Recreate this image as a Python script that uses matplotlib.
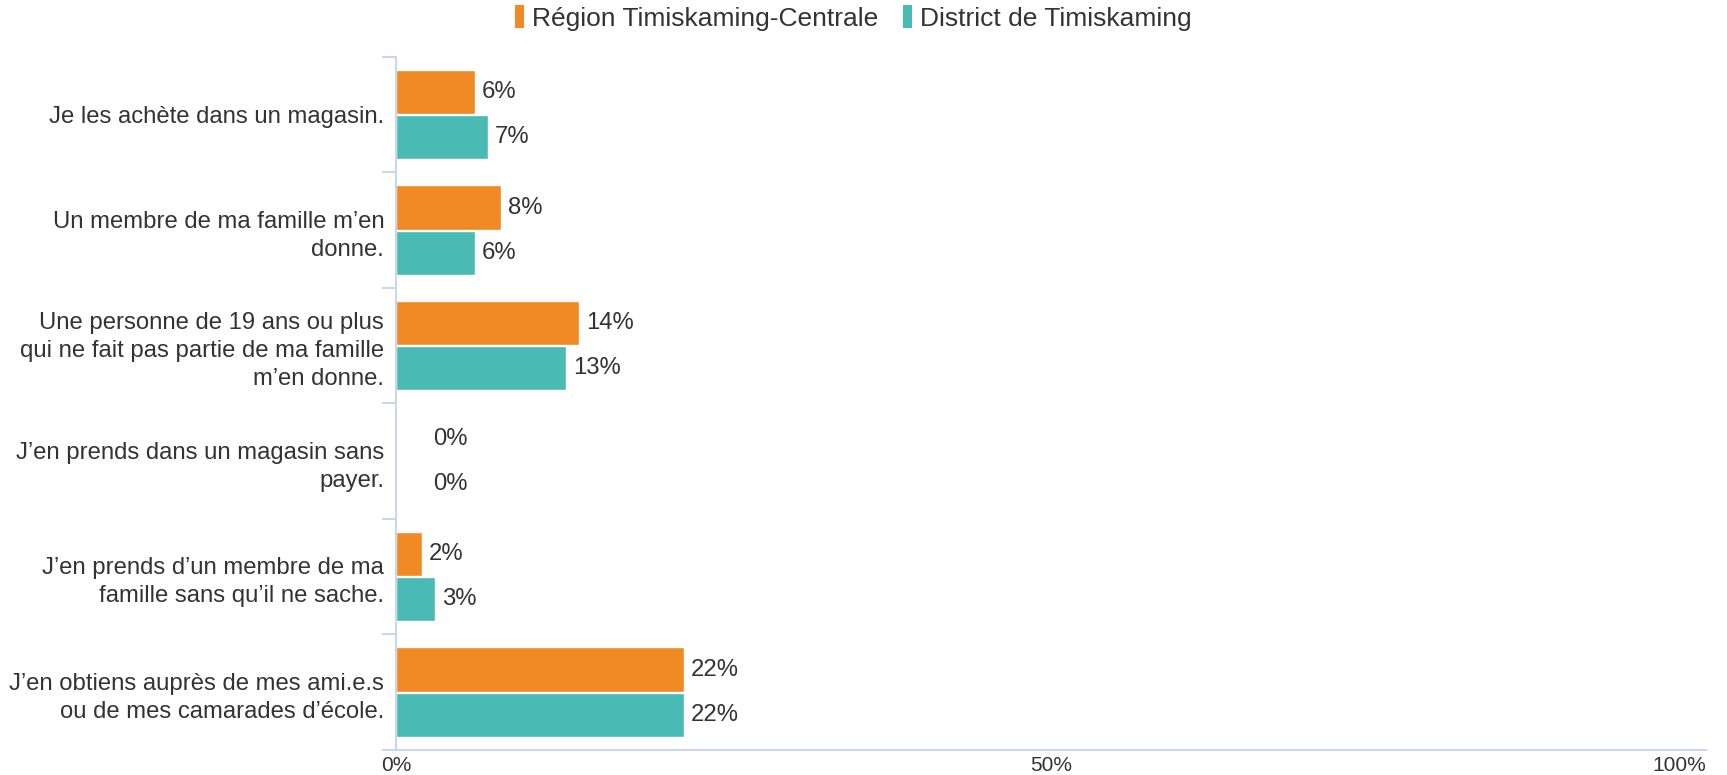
import matplotlib.pyplot as plt
import numpy as np
from matplotlib.patches import Patch

plt.rcParams['font.family'] = ['Liberation Sans', 'DejaVu Sans']

categories = [
    "Je les achète dans un magasin.",
    "Un membre de ma famille m’en\ndonne.",
    "Une personne de 19 ans ou plus\nqui ne fait pas partie de ma famille\nm’en donne.",
    "J’en prends dans un magasin sans\npayer.",
    "J’en prends d’un membre de ma\nfamille sans qu’il ne sache.",
    "J’en obtiens auprès de mes ami.e.s\nou de mes camarades d’école.",
]
series_names = ["Région Timiskaming-Centrale", "District de Timiskaming"]
region_vals = [6, 8, 14, 0, 2, 22]
district_vals = [7, 6, 13, 0, 3, 22]
x_ticks = [0, 50, 100]
x_tick_labels = ["0%", "50%", "100%"]

colors = ['#ef8a25', '#4abbb4']
text_color = '#333333'
axis_color = '#ccd6eb'

fig = plt.figure(figsize=(17.27, 7.75), dpi=100)
ax = fig.add_axes([0.2293, 0.0323, 0.9878 - 0.2293, 0.8942])

y = np.arange(len(categories))
h = 0.385
offsets = [-0.195, 0.195]
for vals, off, c in zip([region_vals, district_vals], offsets, colors):
    bars = ax.barh(y + off, vals, height=h, color=c, edgecolor='white', linewidth=1)
    for b, v in zip(bars, vals):
        pad = 5 if v > 0 else 27
        ax.annotate(f"{v}%", (v, b.get_y() + b.get_height() / 2),
                    xytext=(pad, 0), textcoords='offset points',
                    va='center', ha='left', fontsize=17.2, color=text_color)

ax.set_xlim(0, 100)
ax.set_ylim(len(categories) - 0.5, -0.5)

# category boundaries as major ticks, labels on minor ticks
ax.set_yticks(np.arange(len(categories) + 1) - 0.5)
ax.set_yticklabels([])
ax.tick_params(axis='y', which='major', length=10, color=axis_color, width=1.5)
ax.set_yticks(y, minor=True)
ax.set_yticklabels(categories, minor=True, fontsize=17.2, color=text_color,
                   linespacing=1.35)
ax.tick_params(axis='y', which='minor', length=0, pad=8.5)

ax.set_xticks(x_ticks)
ax.set_xticklabels(x_tick_labels, fontsize=15, color=text_color)
ax.tick_params(axis='x', length=0, pad=4)
xl = ax.get_xticklabels()
xl[-1].set_ha('right')
xl[-1].set_x(100)

for s in ['top', 'right']:
    ax.spines[s].set_visible(False)
for s in ['left', 'bottom']:
    ax.spines[s].set_color(axis_color)
    ax.spines[s].set_linewidth(1.5)

handles = [Patch(facecolor=c, edgecolor='none') for c in colors]
fig.legend(handles, series_names, loc='center', bbox_to_anchor=(0.494, 0.977),
           ncol=2, frameon=False, fontsize=19, labelcolor=text_color,
           handlelength=0.35, handleheight=0.95, handletextpad=0.3,
           columnspacing=0.95, borderaxespad=0, borderpad=0)

fig.savefig('out.png', dpi=100)
